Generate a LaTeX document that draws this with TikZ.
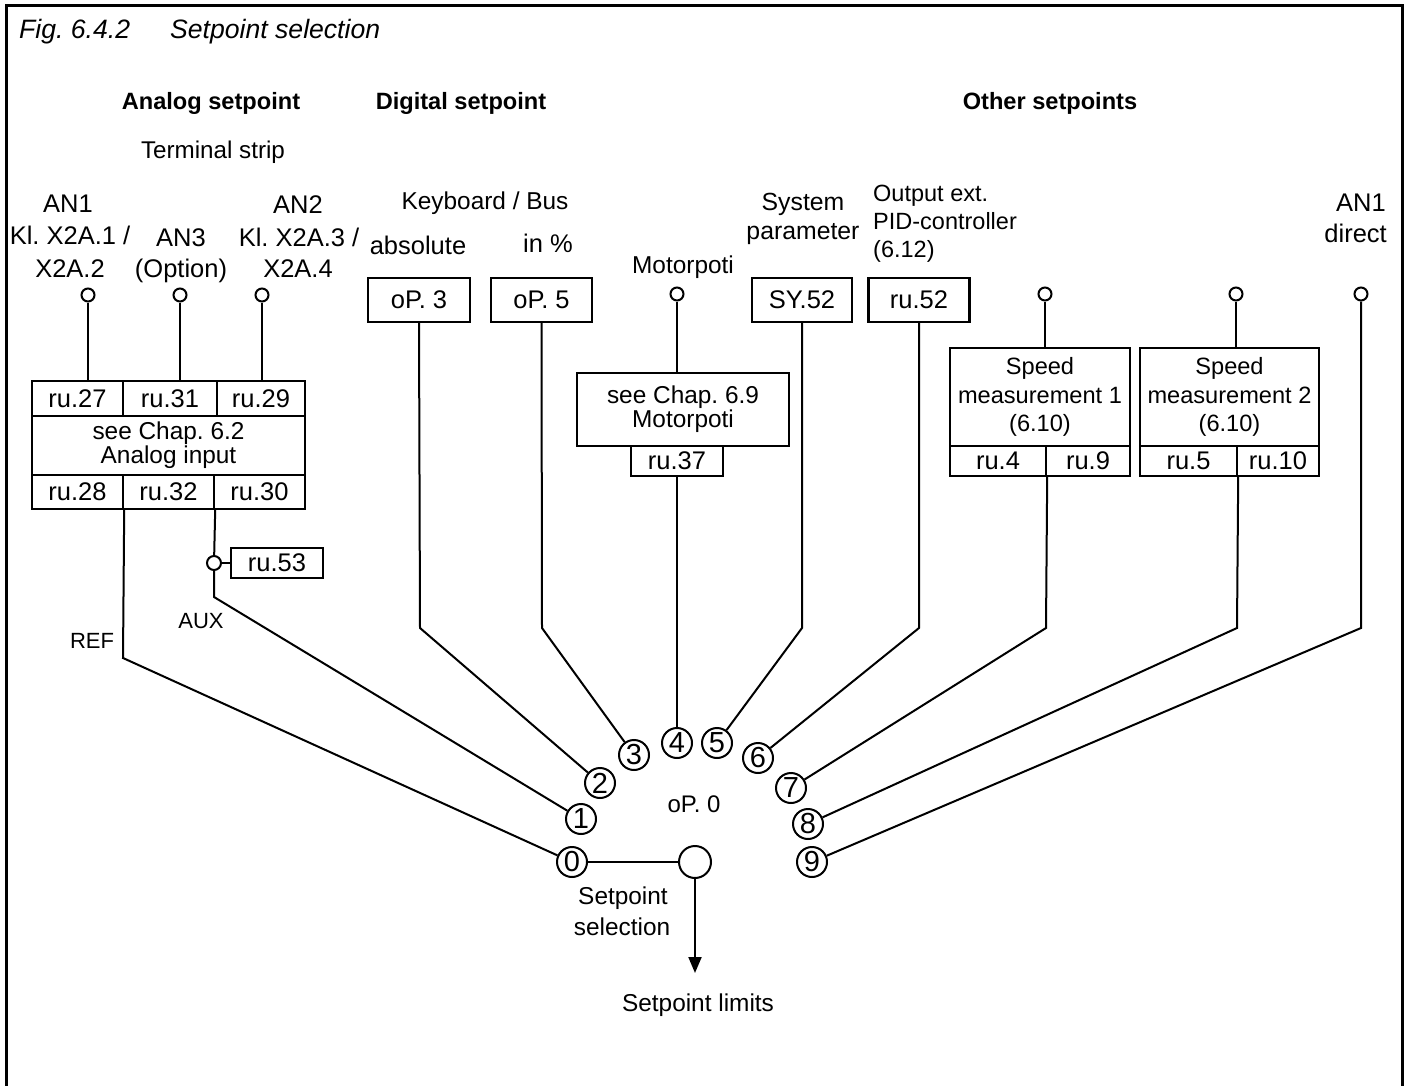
\documentclass[tikz,border=0pt]{standalone}
\usepackage{fontspec}
\setmainfont{Liberation Sans}
\usetikzlibrary{arrows.meta}
\frenchspacing
\newcommand{\pxfont}[1]{\fontsize{#1}{#1}\selectfont}
\tikzset{
  wire/.style={line width=2pt},
  cell/.style={draw, line width=2.4pt, inner sep=0pt, font=\pxfont{25.5}},
  term/.style={draw, circle, line width=2pt, inner sep=0pt, minimum size=13pt, fill=white},
  contact/.style={draw, circle, line width=2pt, inner sep=0pt, minimum size=30pt, font=\pxfont{29}},
  lbl/.style={anchor=base, inner sep=0pt, font=\pxfont{25.5}},
  hdr/.style={anchor=base, inner sep=0pt, font=\bfseries\pxfont{23.6}},
}

\begin{document}
\begin{tikzpicture}[x=1pt, y=-1pt]
\useasboundingbox (0,0) rectangle (1409,1086);
% frame and headings
\draw[line width=3pt] (6,1086) -- (6,6) -- (1402,6) -- (1402,1086);
\node[lbl, anchor=base west, font=\itshape\pxfont{26.6}] (fig) at (19,39) {Fig. 6.4.2};
\node[lbl, anchor=base west, font=\itshape\pxfont{26.6}] (title) at (170,39) {Setpoint selection};
\node[hdr] (hana) at (211,110) {Analog setpoint};
\node[hdr] (hdig) at (461,110) {Digital setpoint};
\node[hdr] (hoth) at (1050,110) {Other setpoints};
\node[lbl, font=\pxfont{24.2}] (strip) at (213,159) {Terminal strip};

% analog inputs
\node[lbl] (t1a) at (68,213) {AN1};
\node[lbl] (t1b) at (70,245) {Kl. X2A.1 /};
\node[lbl] (t1c) at (70,277) {X2A.2};
\node[lbl] (t3a) at (181,247) {AN3};
\node[lbl] (t3b) at (181,277) {(Option)};
\node[lbl] (t2a) at (298,214) {AN2};
\node[lbl] (t2b) at (299,247) {Kl. X2A.3 /};
\node[lbl] (t2c) at (298,278) {X2A.4};
\node[term] (an1) at (88,295) {};
\node[term] (an3) at (180,295) {};
\node[term] (an2) at (262,295) {};

\node[cell, minimum width=91pt, minimum height=35pt] (ru27) at (77.5,398.5) {ru.27};
\node[cell, minimum width=94pt, minimum height=35pt] (ru31) at (170,398.5) {ru.31};
\node[cell, minimum width=88pt, minimum height=35pt] (ru29) at (261,398.5) {ru.29};
\node[cell, minimum width=273pt, minimum height=59pt, align=center, font=\fontsize{24.4}{24}\selectfont] (ain) at (168.5,445.5) {see Chap. 6.2\\Analog input};
\node[cell, minimum width=91pt, minimum height=34pt] (ru28) at (77.5,492) {ru.28};
\node[cell, minimum width=91pt, minimum height=34pt] (ru32) at (168.5,492) {ru.32};
\node[cell, minimum width=91pt, minimum height=34pt] (ru30) at (259.5,492) {ru.30};
\node[cell, minimum width=92pt, minimum height=30pt] (ru53) at (277,563) {ru.53};
\node[term, minimum size=14pt] (junc) at (214,563) {};
\node[lbl, font=\pxfont{22}] (ref) at (92,648) {REF};
\node[lbl, font=\pxfont{22}] (aux) at (201,628) {AUX};

% digital setpoint
\node[lbl, font=\pxfont{24.4}] (kbd) at (485,210) {Keyboard / Bus};
\node[lbl] (abs) at (418,255) {absolute};
\node[lbl] (pct) at (548,253) {in \%};
\node[cell, minimum width=102pt, minimum height=44pt] (op3) at (419,300) {oP. 3};
\node[cell, minimum width=101pt, minimum height=44pt] (op5) at (541.5,300) {oP. 5};

% motorpoti
\node[lbl, font=\pxfont{24.4}] (mptl) at (683,273) {Motorpoti};
\node[term] (mpt) at (677,294) {};
\node[cell, minimum width=212pt, minimum height=73pt, align=center, font=\fontsize{24.4}{24}\selectfont] (mbox) at (683,409.5) {see Chap. 6.9\\Motorpoti};
\node[cell, minimum width=92pt, minimum height=30pt] (ru37) at (677,461) {ru.37};

% other setpoints
\node[lbl, font=\pxfont{24.8}] (sysa) at (803,211) {System};
\node[lbl, font=\pxfont{24.8}] (sysb) at (803,240) {parameter};
\node[cell, minimum width=100pt, minimum height=44pt] (sy52) at (802,300) {SY.52};
\node[lbl, anchor=base west, font=\pxfont{23.5}] (pida) at (873,202) {Output ext.};
\node[lbl, anchor=base west, font=\pxfont{23.5}] (pidb) at (873,230) {PID-controller};
\node[lbl, anchor=base west, font=\pxfont{23.5}] (pidc) at (873,258) {(6.12)};
\node[cell, minimum width=101pt, minimum height=44pt] (ru52) at (919,300) {ru.52};

\node[term] (sp1t) at (1045,294) {};
\node[cell, minimum width=180pt, minimum height=98pt, align=center, font=\fontsize{23.6}{28.5}\selectfont] (spd1) at (1040,397) {Speed\\measurement 1\\(6.10)};
\node[cell, minimum width=96pt, minimum height=30pt] (ru4) at (998,461) {ru.4};
\node[cell, minimum width=84pt, minimum height=30pt] (ru9) at (1088,461) {ru.9};
\node[term] (sp2t) at (1236,294) {};
\node[cell, minimum width=179pt, minimum height=98pt, align=center, font=\fontsize{23.6}{28.5}\selectfont] (spd2) at (1229.5,397) {Speed\\measurement 2\\(6.10)};
\node[cell, minimum width=97pt, minimum height=30pt] (ru5) at (1188.5,461) {ru.5};
\node[cell, minimum width=82pt, minimum height=30pt] (ru10) at (1278,461) {ru.10};

\node[lbl, anchor=base east] (dira) at (1386,212) {AN1};
\node[lbl, anchor=base east] (dirb) at (1387,243) {direct};
\node[term] (an1d) at (1361,294) {};

% selector positions
\node[contact] (s0) at (572,862) {0};
\node[contact] (s1) at (581,819) {1};
\node[contact] (s2) at (600,783) {2};
\node[contact] (s3) at (634,755) {3};
\node[contact] (s4) at (677,743) {4};
\node[contact] (s5) at (717,743) {5};
\node[contact] (s6) at (758,758) {6};
\node[contact] (s7) at (791,788) {7};
\node[contact] (s8) at (808,824) {8};
\node[contact] (s9) at (812,862) {9};
\node[lbl, font=\pxfont{24}] (op0) at (694,812) {oP. 0};
\node[draw, circle, line width=2pt, minimum size=32pt, inner sep=0pt] (sel) at (695,862) {};
\node[lbl, font=\pxfont{24.4}] (sela) at (623,904) {Setpoint};
\node[lbl, font=\pxfont{24.4}] (selb) at (622,935) {selection};
\node[lbl, font=\pxfont{24.4}] (lim) at (698,1011) {Setpoint limits};
\coordinate (limtip) at (695,973);

% knees
\coordinate (kref) at (123,658);
\coordinate (kaux) at (214,597);
\coordinate (k2) at (420,628);
\coordinate (k3) at (542,628);
\coordinate (k5) at (802,628);
\coordinate (k6) at (919,628);
\coordinate (k7) at (1046,628);
\coordinate (k8) at (1237,628);
\coordinate (k9) at (1361,628);

% connectors
\draw[wire] (an1) -- (an1 |- ru27.north);
\draw[wire] (an3) -- (an3 |- ru31.north);
\draw[wire] (an2) -- (an2 |- ru29.north);
\draw[wire] (ru28.south east) -- (kref) -- (s0);
\draw[wire] (ru32.south east) -- (junc) -- (kaux) -- (s1);
\draw[wire] (junc) -- (ru53);
\draw[wire] (op3.south) -- (k2) -- (s2);
\draw[wire] (op5.south) -- (k3) -- (s3);
\draw[wire] (mpt) -- (mpt |- mbox.north);
\draw[wire] (ru37) -- (s4);
\draw[wire] (sy52.south) -- (k5) -- (s5);
\draw[wire] (ru52.south) -- (k6) -- (s6);
\draw[wire] (sp1t) -- (sp1t |- spd1.north);
\draw[wire] (ru4.south east) -- (k7) -- (s7);
\draw[wire] (sp2t) -- (sp2t |- spd2.north);
\draw[wire] (ru5.south east) -- (k8) -- (s8);
\draw[wire] (an1d) -- (k9) -- (s9);
\draw[wire] (s0) -- (sel);
\draw[wire, -{Triangle[length=16pt, width=13pt]}] (sel) -- (limtip);
\end{tikzpicture}
\end{document}
